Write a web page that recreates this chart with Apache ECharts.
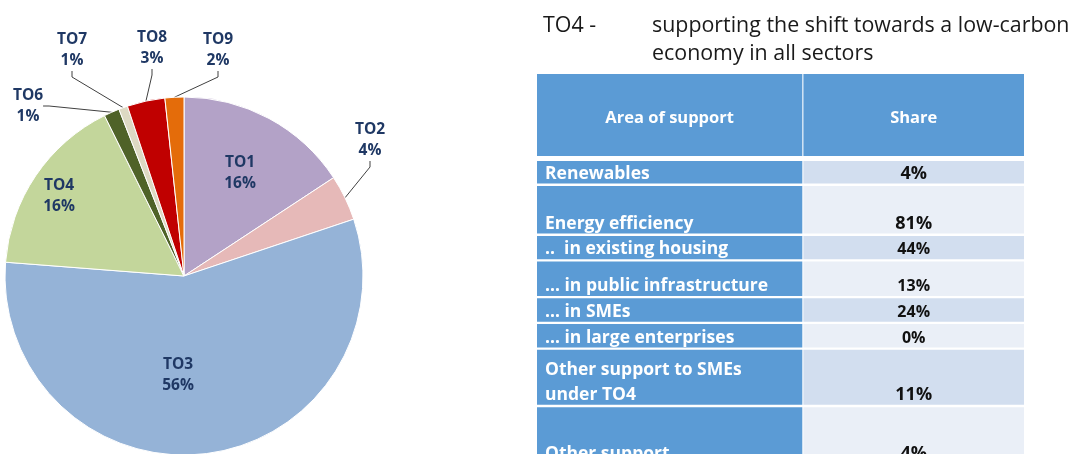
<!DOCTYPE html>
<html>
<head>
<meta charset="utf-8">
<script src="https://cdn.jsdelivr.net/npm/echarts@6/dist/echarts.min.js"></script>
<style>
  html, body { margin: 0; padding: 0; background: #fff; }
  #chart { width: 1074px; height: 454px; }
</style>
</head>
<body>
<div id="chart"></div>
<script>
// pie: thematic objectives and their share (%)
const objectives = ['TO1', 'TO2', 'TO3', 'TO4', 'TO6', 'TO7', 'TO8', 'TO9'];
const objectiveShares = [15.7, 4.1, 56.2, 16.4, 1.4, 0.8, 3.4, 1.7];

// table: TO4 areas of support
const titleCode = 'TO4 -';
const titleLines = ['supporting the shift towards a low-carbon', 'economy in all sectors'];
const tableHeader = ['Area of support', 'Share'];
const supportAreas = [
    'Renewables',
    'Energy efficiency',
    '..  in existing housing',
    '… in public infrastructure',
    '… in SMEs',
    '… in large enterprises',
    'Other support to SMEs\nunder TO4',
    'Other support'
];
const supportShares = [4, 81, 44, 13, 24, 0, 11, 4];

// ---- styling / layout ----
const FONT = '"Open Sans", sans-serif';
const sliceColors = ['#B3A2C7', '#E6B9B8', '#95B3D7', '#C3D69B', '#4F6228', '#DDD9C3', '#C00000', '#E46C0A'];
const outsideLabel = { TO2: true, TO6: true, TO7: true, TO8: true, TO9: true };
const labelSpots = {
    TO1: [240, 173], TO2: [370, 140], TO3: [178, 375], TO4: [59, 196],
    TO6: [28, 106], TO7: [72, 50], TO8: [152, 48], TO9: [218, 50]
};
const subRow = [false, false, true, true, true, true, false, false];
const rowHeights = [22.5, 47.6, 23.3, 34.3, 23.4, 23.3, 55, 57];
const rowGap = 2.4;
const firstRowTop = 161;
const tblLeft = 537, colSplit = 802.3, colGap = 1.1, tblRight = 1024;
const headTop = 74, headBottom = 156;

// text placed by its baseline (vertical middle shifted)
const textAt = (x, baseline, text, size, opts) => ({
    type: 'text',
    x: x,
    y: baseline - size * 0.3,
    style: Object.assign({
        text: text,
        font: `${size}px ${FONT}`,
        verticalAlign: 'middle',
        fill: '#1a1a1a'
    }, opts || {})
});

const graphics = [];
graphics.push(textAt(543, 32, titleCode, 21.4));
graphics.push(textAt(652, 32, titleLines[0], 21.4));
graphics.push(textAt(652, 60, titleLines[1], 21.4));

// header
const rightX = colSplit + colGap;
const rightW = tblRight - rightX;
const leftW = colSplit - tblLeft;
graphics.push({ type: 'rect', shape: { x: tblLeft, y: headTop, width: leftW, height: headBottom - headTop }, style: { fill: '#5B9BD5' } });
graphics.push({ type: 'rect', shape: { x: rightX, y: headTop, width: rightW, height: headBottom - headTop }, style: { fill: '#5B9BD5' } });
graphics.push(textAt(tblLeft + leftW / 2, 123.5, tableHeader[0], 16.5, { fill: '#fff', font: `bold 16.5px ${FONT}`, align: 'center' }));
graphics.push(textAt(rightX + rightW / 2, 123.5, tableHeader[1], 16.5, { fill: '#fff', font: `bold 16.5px ${FONT}`, align: 'center' }));

let rowTop = firstRowTop;
supportAreas.forEach((area, i) => {
    const h = rowHeights[i];
    const rowBottom = rowTop + h;
    graphics.push({ type: 'rect', shape: { x: tblLeft, y: rowTop, width: leftW, height: h }, style: { fill: '#5B9BD5' } });
    graphics.push({ type: 'rect', shape: { x: rightX, y: rowTop, width: rightW, height: h }, style: { fill: i % 2 === 0 ? '#D2DEEF' : '#EAEFF7' } });
    const lines = area.split('\n');
    lines.forEach((ln, k) => {
        const base = rowBottom - 4.5 - (lines.length - 1 - k) * 25.3;
        graphics.push(textAt(545, base, ln, 17.5, { fill: '#fff', font: `bold 17.5px ${FONT}` }));
    });
    const fs = subRow[i] ? 16 : 18;
    graphics.push(textAt(rightX + rightW / 2, rowBottom - 4.5, supportShares[i] + '%', fs, { font: `bold ${fs}px ${FONT}`, align: 'center', fill: '#111' }));
    rowTop = rowBottom + rowGap;
});

const pieData = objectives.map((name, i) => ({
    name: name,
    value: objectiveShares[i],
    itemStyle: { color: sliceColors[i] },
    label: { position: outsideLabel[name] ? 'outside' : 'inside' },
    labelLine: { show: !!outsideLabel[name] }
}));

const chart = echarts.init(document.getElementById('chart'), null, { renderer: 'canvas' });
chart.setOption({
    animation: false,
    graphic: graphics,
    series: [{
        type: 'pie',
        center: [184, 276],
        radius: 179,
        startAngle: 90,
        clockwise: true,
        avoidLabelOverlap: false,
        data: pieData,
        itemStyle: { borderColor: '#fff', borderWidth: 1 },
        label: {
            show: true,
            formatter: (p) => p.name + '\n' + Math.round(p.value) + '%',
            color: '#1F3864',
            fontFamily: FONT,
            fontWeight: 'bold',
            fontSize: 15.5,
            lineHeight: 21,
            align: 'center'
        },
        labelLine: {
            show: true,
            length: 8,
            length2: 6,
            lineStyle: { color: '#404040', width: 1 }
        },
        labelLayout: (params) => {
            const spot = labelSpots[objectives[params.dataIndex]];
            return { x: spot[0], y: spot[1], align: 'center', verticalAlign: 'middle' };
        },
        emphasis: { disabled: true }
    }]
});
</script>
</body>
</html>
